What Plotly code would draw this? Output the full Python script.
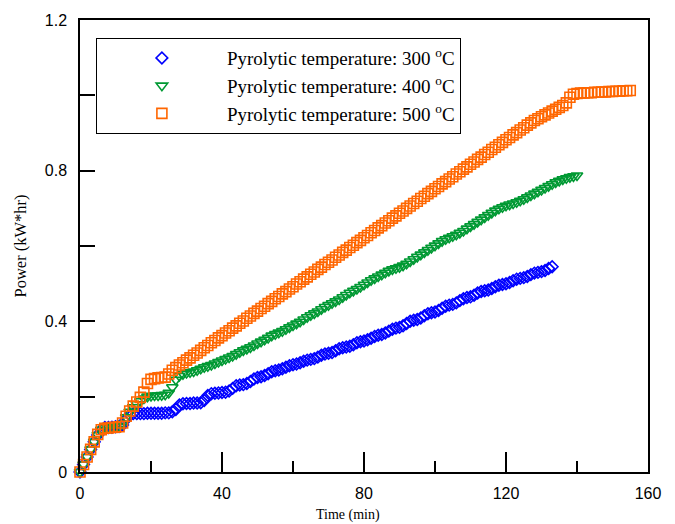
import plotly.graph_objects as go

# Time (min) and power (kW*hr)
t300 = list(range(0, 134))
p300 = [0.000, 0.020, 0.040, 0.060, 0.080, 0.098, 0.112, 0.118, 0.118, 0.119,
        0.120, 0.121, 0.125, 0.140, 0.152, 0.155, 0.155, 0.155, 0.155, 0.156,
        0.156, 0.156, 0.156, 0.156, 0.157, 0.157, 0.160, 0.166, 0.178, 0.181,
        0.182, 0.182, 0.183, 0.183, 0.184, 0.190, 0.203, 0.208, 0.209, 0.210,
        0.211, 0.212, 0.215, 0.222, 0.229, 0.231, 0.232, 0.235, 0.240, 0.247,
        0.251, 0.253, 0.256, 0.261, 0.266, 0.269, 0.271, 0.274, 0.278, 0.282,
        0.285, 0.287, 0.290, 0.294, 0.297, 0.299, 0.301, 0.305, 0.310, 0.313,
        0.315, 0.317, 0.322, 0.327, 0.330, 0.332, 0.334, 0.338, 0.343, 0.346,
        0.348, 0.351, 0.355, 0.360, 0.363, 0.365, 0.369, 0.374, 0.379, 0.382,
        0.384, 0.388, 0.394, 0.400, 0.403, 0.405, 0.409, 0.415, 0.420, 0.423,
        0.425, 0.429, 0.435, 0.440, 0.443, 0.445, 0.449, 0.455, 0.460, 0.463,
        0.465, 0.469, 0.475, 0.479, 0.481, 0.483, 0.487, 0.492, 0.496, 0.498,
        0.500, 0.503, 0.508, 0.512, 0.514, 0.516, 0.519, 0.524, 0.528, 0.530,
        0.532, 0.535, 0.540, 0.545]

t400 = list(range(0, 141))
p400 = [0.000, 0.020, 0.040, 0.060, 0.080, 0.098, 0.112, 0.118, 0.118, 0.119,
        0.120, 0.121, 0.128, 0.145, 0.160, 0.172, 0.180, 0.188, 0.195, 0.200,
        0.202, 0.203, 0.203, 0.204, 0.205, 0.210, 0.225, 0.245, 0.255, 0.260,
        0.263, 0.265, 0.267, 0.270, 0.274, 0.278, 0.281, 0.284, 0.288, 0.292,
        0.296, 0.300, 0.304, 0.308, 0.313, 0.318, 0.323, 0.327, 0.331, 0.336,
        0.341, 0.346, 0.351, 0.356, 0.362, 0.366, 0.370, 0.374, 0.379, 0.384,
        0.389, 0.394, 0.399, 0.405, 0.411, 0.416, 0.421, 0.426, 0.432, 0.438,
        0.443, 0.448, 0.453, 0.458, 0.464, 0.470, 0.476, 0.481, 0.486, 0.491,
        0.497, 0.503, 0.509, 0.514, 0.519, 0.524, 0.529, 0.534, 0.538, 0.541,
        0.544, 0.548, 0.553, 0.559, 0.565, 0.571, 0.577, 0.583, 0.589, 0.595,
        0.601, 0.607, 0.613, 0.618, 0.622, 0.626, 0.630, 0.635, 0.640, 0.646,
        0.652, 0.658, 0.664, 0.670, 0.676, 0.682, 0.688, 0.694, 0.699, 0.703,
        0.707, 0.710, 0.713, 0.716, 0.720, 0.724, 0.729, 0.734, 0.739, 0.744,
        0.749, 0.754, 0.759, 0.764, 0.769, 0.773, 0.777, 0.780, 0.783, 0.785,
        0.787]

t500 = list(range(0, 156))
p500 = [0.000, 0.020, 0.040, 0.060, 0.080, 0.100, 0.112, 0.116, 0.117, 0.118,
        0.119, 0.120, 0.130, 0.148, 0.162, 0.175, 0.186, 0.198, 0.212, 0.235,
        0.246, 0.248, 0.250, 0.251, 0.252, 0.260, 0.270, 0.277, 0.284, 0.290,
        0.297, 0.303, 0.310, 0.316, 0.323, 0.330, 0.336, 0.343, 0.349, 0.356,
        0.362, 0.369, 0.375, 0.382, 0.388, 0.395, 0.401, 0.408, 0.414, 0.421,
        0.427, 0.434, 0.440, 0.447, 0.453, 0.460, 0.466, 0.473, 0.479, 0.486,
        0.492, 0.499, 0.505, 0.512, 0.518, 0.525, 0.531, 0.538, 0.544, 0.551,
        0.557, 0.563, 0.570, 0.576, 0.583, 0.589, 0.596, 0.602, 0.609, 0.615,
        0.622, 0.628, 0.635, 0.641, 0.648, 0.654, 0.661, 0.667, 0.674, 0.680,
        0.687, 0.693, 0.700, 0.706, 0.713, 0.719, 0.726, 0.732, 0.739, 0.745,
        0.752, 0.758, 0.765, 0.771, 0.778, 0.784, 0.791, 0.797, 0.804, 0.810,
        0.817, 0.823, 0.830, 0.836, 0.843, 0.849, 0.856, 0.862, 0.869, 0.875,
        0.882, 0.888, 0.895, 0.901, 0.908, 0.914, 0.921, 0.927, 0.933, 0.938,
        0.943, 0.948, 0.953, 0.958, 0.963, 0.968, 0.973, 0.980, 0.995, 1.003,
        1.005, 1.006, 1.006, 1.007, 1.007, 1.008, 1.008, 1.009, 1.009, 1.010,
        1.010, 1.011, 1.011, 1.012, 1.012, 1.013]

series = [
    ("Pyrolytic temperature: 300 <sup>o</sup>C", t300, p300, "diamond-open", "#0000FF", 9),
    ("Pyrolytic temperature: 400 <sup>o</sup>C", t400, p400, "triangle-down-open", "#009933", 10),
    ("Pyrolytic temperature: 500 <sup>o</sup>C", t500, p500, "square-open", "#FF6600", 10),
]

fig = go.Figure()
for name, x, y, sym, col, sz in series:
    fig.add_trace(go.Scatter(
        x=x, y=y, mode="markers", name=name, cliponaxis=False,
        marker=dict(symbol=sym, size=sz, color=col, line=dict(width=1.6, color=col)),
    ))

tick_font = dict(family="Liberation Sans, Arial", size=16, color="black")
xtitle_font = dict(family="Liberation Serif, Times New Roman", size=14, color="black")
ytitle_font = dict(family="Liberation Serif, Times New Roman", size=16.5, color="black")

fig.update_layout(
    width=667, height=516,
    margin=dict(l=72, r=27, t=12, b=52),
    plot_bgcolor="white", paper_bgcolor="white",
    showlegend=True,
    legend=dict(
        x=0.028, y=0.96, xanchor="left", yanchor="top",
        bgcolor="white", bordercolor="black", borderwidth=1,
        font=dict(family="Liberation Serif, Times New Roman", size=19, color="black"),
        itemwidth=120,
    ),
    xaxis=dict(
        range=[0, 160], tickmode="array", tickvals=[0, 40, 80, 120, 160],
        ticks="inside", ticklen=20, tickwidth=1.5, tickcolor="black",
        minor=dict(tickvals=[20, 60, 100, 140], ticks="inside", ticklen=11, tickwidth=1.5, tickcolor="black"),
        showline=True, linecolor="black", linewidth=1.5, mirror=True,
        showgrid=False, zeroline=False, tickfont=tick_font, ticklabelstandoff=6,
        automargin=False,
    ),
    yaxis=dict(
        range=[0, 1.2], tickmode="array", tickvals=[0, 0.4, 0.8, 1.2],
        ticktext=["0", "0.4", "0.8", "1.2"],
        ticks="inside", ticklen=15, tickwidth=1.5, tickcolor="black",
        minor=dict(tickvals=[0.2, 0.6, 1.0], ticks="inside", ticklen=15, tickwidth=1.5, tickcolor="black"),
        showline=True, linecolor="black", linewidth=1.5, mirror=True,
        showgrid=False, zeroline=False, tickfont=tick_font, ticklabelstandoff=8,
        automargin=False,
        title=dict(text="Power (kW*hr)", font=ytitle_font, standoff=14),
    ),
    annotations=[dict(
        text="Time (min)", xref="paper", yref="paper", x=0.472, y=-0.095,
        xanchor="center", yanchor="middle", showarrow=False, font=xtitle_font,
    )],
)

fig.write_html("out.html")
